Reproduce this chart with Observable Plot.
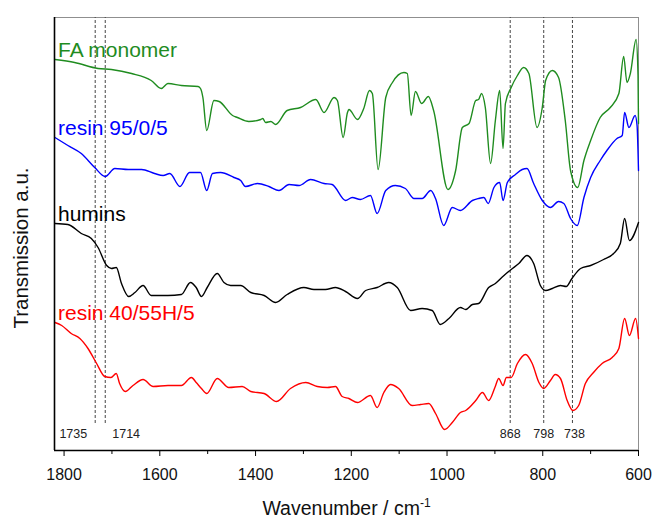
<!DOCTYPE html>
<html><head><meta charset="utf-8">
<script src="https://cdn.jsdelivr.net/npm/d3@7"></script>
<script src="https://cdn.jsdelivr.net/npm/@observablehq/plot@0.6"></script>
<style>
body{margin:0;background:#fff}
svg{font-family:"Liberation Sans",Arial,sans-serif}
</style>
</head><body><div id="chart"></div>
<script>
// [wavenumber (cm-1), transmission (a.u., offset)]
const faMonomer = [[1819,3.91],[1778,3.88],[1729,3.82],[1701,3.81],[1659,3.77],[1618,3.70],[1597,3.62],[1583,3.67],[1555,3.65],[1520,3.64],[1515,3.62],[1510,3.53],[1502,3.20],[1487,3.50],[1476,3.49],[1448,3.35],[1438,3.33],[1414,3.29],[1389,3.31],[1385,3.32],[1379,3.28],[1368,3.29],[1358,3.26],[1334,3.40],[1306,3.43],[1274,3.51],[1257,3.38],[1236,3.53],[1229,3.50],[1217,3.13],[1208,3.38],[1205,3.41],[1187,3.31],[1174,3.42],[1162,3.60],[1156,3.57],[1144,2.81],[1128,3.53],[1114,3.68],[1090,3.78],[1083,3.77],[1075,3.35],[1066,3.59],[1053,3.47],[1039,3.54],[1028,3.40],[998,2.61],[982,2.80],[968,3.23],[954,3.27],[940,3.50],[934,3.51],[928,3.57],[920,3.43],[909,2.87],[899,3.30],[890,3.60],[883,3.02],[878,3.47],[866,3.63],[853,3.75],[840,3.83],[829,3.77],[812,3.23],[801,3.43],[794,3.70],[780,3.80],[767,3.73],[753,3.30],[742,2.80],[727,2.63],[714,2.90],[700,3.10],[680,3.33],[659,3.43],[641,3.57],[631,3.94],[624,3.68],[617,3.77],[605,4.11],[601,3.75],[600,3.27]];
const resin95 = [[1819,3.13],[1792,3.05],[1764,2.97],[1736,2.83],[1714,2.74],[1694,2.82],[1666,2.81],[1638,2.81],[1611,2.77],[1593,2.75],[1579,2.77],[1558,2.64],[1538,2.78],[1515,2.78],[1502,2.60],[1490,2.77],[1473,2.78],[1445,2.73],[1431,2.70],[1421,2.64],[1396,2.67],[1372,2.64],[1351,2.60],[1330,2.66],[1309,2.65],[1285,2.71],[1257,2.67],[1240,2.66],[1212,2.50],[1198,2.53],[1181,2.51],[1160,2.55],[1146,2.37],[1128,2.60],[1108,2.65],[1087,2.62],[1069,2.52],[1052,2.52],[1034,2.60],[1024,2.52],[1007,2.25],[989,2.43],[972,2.40],[947,2.50],[934,2.52],[923,2.53],[914,2.47],[902,2.63],[890,2.68],[883,2.50],[874,2.68],[857,2.76],[843,2.81],[833,2.82],[819,2.67],[801,2.50],[784,2.43],[767,2.49],[756,2.47],[742,2.32],[728,2.25],[714,2.53],[700,2.73],[680,2.90],[666,3.00],[645,3.12],[634,3.15],[629,3.38],[620,3.23],[607,3.35],[603,3.25],[600,2.80]];
const humins = [[1819,2.27],[1792,2.26],[1764,2.17],[1743,2.12],[1729,2.03],[1711,1.85],[1701,1.82],[1691,1.83],[1680,1.67],[1665,1.54],[1652,1.58],[1635,1.65],[1618,1.55],[1583,1.55],[1555,1.56],[1536,1.68],[1524,1.63],[1513,1.54],[1501,1.63],[1480,1.77],[1466,1.68],[1452,1.65],[1431,1.65],[1410,1.58],[1382,1.55],[1358,1.48],[1334,1.56],[1299,1.63],[1278,1.61],[1254,1.61],[1233,1.63],[1212,1.59],[1187,1.52],[1170,1.60],[1146,1.63],[1122,1.68],[1104,1.63],[1076,1.40],[1052,1.42],[1031,1.40],[1014,1.26],[996,1.32],[972,1.43],[961,1.41],[947,1.46],[934,1.47],[913,1.63],[899,1.67],[881,1.75],[866,1.81],[850,1.87],[833,1.95],[819,1.87],[805,1.65],[794,1.60],[780,1.62],[763,1.65],[751,1.64],[739,1.72],[721,1.82],[700,1.85],[673,1.91],[652,1.97],[638,2.07],[629,2.32],[619,2.10],[600,2.28]];
const resin40 = [[1819,1.28],[1805,1.25],[1785,1.17],[1767,1.12],[1750,1.02],[1732,0.87],[1715,0.74],[1702,0.73],[1691,0.77],[1684,0.67],[1672,0.59],[1656,0.65],[1635,0.71],[1614,0.64],[1583,0.65],[1555,0.65],[1534,0.73],[1524,0.68],[1513,0.62],[1502,0.57],[1480,0.72],[1456,0.63],[1428,0.64],[1410,0.59],[1382,0.57],[1356,0.49],[1327,0.62],[1295,0.68],[1271,0.64],[1250,0.63],[1233,0.64],[1219,0.54],[1205,0.52],[1187,0.48],[1160,0.55],[1146,0.43],[1132,0.58],[1118,0.66],[1101,0.62],[1073,0.45],[1055,0.46],[1038,0.47],[1024,0.37],[1005,0.21],[989,0.28],[972,0.38],[961,0.40],[940,0.50],[926,0.58],[913,0.50],[900,0.63],[892,0.72],[883,0.65],[876,0.73],[866,0.73],[853,0.87],[836,0.96],[822,0.87],[808,0.68],[798,0.62],[784,0.70],[774,0.76],[763,0.72],[749,0.50],[737,0.40],[725,0.45],[711,0.67],[694,0.78],[676,0.87],[655,0.93],[641,1.02],[629,1.32],[619,1.15],[606,1.32],[600,1.12]];

const seriesNames = ["FA monomer", "resin 95/0/5", "humins", "resin 40/55H/5"];
const seriesColors = ["#1f8c1f", "#0000ff", "#000000", "#ff0000"];
const seriesData = [faMonomer, resin95, humins, resin40];

const bandWavenumbers = [1735, 1714, 868, 798, 738];
const bandLabels = ["1735", "1714", "868", "798", "738"];

const majorTicks = [1800, 1600, 1400, 1200, 1000, 800, 600];
const minorTicks = [1700, 1500, 1300, 1100, 900, 700];
const xLabel = "Wavenumber / cm";
const xLabelSup = "-1";
const yLabel = "Transmission a.u.";

const xDomain = [1820, 600];
const yDomain = [0, 4.33];

const marks = [Plot.frame({stroke: "#8f8f8f", strokeWidth: 1})];

marks.push(Plot.ruleX(bandWavenumbers, {y1: 0.27, y2: yDomain[1], stroke: "#444", strokeWidth: 1, strokeDasharray: "3,2"}));

seriesData.forEach((d, i) => {
  marks.push(Plot.line(d, {x: p => p[0], y: p => p[1], stroke: seriesColors[i], strokeWidth: 1.4, curve: "monotone-x"}));
  marks.push(Plot.text([d[0]], {x: p => p[0], y: p => p[1], text: () => seriesNames[i], fill: seriesColors[i],
    fontSize: 21, textAnchor: "start", lineAnchor: "bottom", dx: 3, dy: -2.5}));
});

const bandTable = bandWavenumbers.map((w, i) => ({w, label: bandLabels[i]}));
const anchorFor = {"1735": ["end", -8], "1714": ["start", 7]};
bandTable.forEach(b => {
  const a = anchorFor[b.label] || ["middle", b.label === "738" ? 2 : 0];
  marks.push(Plot.text([b], {x: "w", frameAnchor: "bottom", text: "label", fontSize: 12.5, fill: "#222",
    textAnchor: a[0], dx: a[1], lineAnchor: "bottom", dy: -13}));
});

marks.push(Plot.axisX({ticks: majorTicks, tickSize: 6, tickPadding: 12, fontSize: 16, label: null, tickFormat: d => String(d), stroke: "#000", color: "#111"}));
marks.push(Plot.axisX({ticks: minorTicks, tickSize: 4, text: null, label: null, stroke: "#000"}));
marks.push(Plot.ruleX([xDomain[0]], {stroke: "#000", strokeWidth: 1.6}));
marks.push(Plot.ruleY([yDomain[0]], {stroke: "#000", strokeWidth: 1.6}));

marks.push(Plot.text([xLabel], {frameAnchor: "bottom", text: d => d, fontSize: 19.5, textAnchor: "middle", lineAnchor: "bottom", dy: 64, fill: "#111"}));
marks.push(Plot.text([yLabel], {frameAnchor: "left", text: d => d, fontSize: 20.5, textAnchor: "middle", lineAnchor: "bottom", rotate: -90, dx: -27, dy: 14, fill: "#111"}));

const chart = Plot.plot({
  width: 655, height: 517,
  marginLeft: 54, marginRight: 17, marginTop: 17, marginBottom: 67,
  x: {domain: xDomain},
  y: {domain: yDomain, axis: null},
  style: {background: "#fff", fontFamily: "Liberation Sans, Arial, sans-serif"},
  marks
});
document.getElementById("chart").appendChild(chart);

const lbl = Array.from(chart.querySelectorAll("text")).find(t => t.textContent === xLabel);
if (lbl) {
  const t = document.createElementNS("http://www.w3.org/2000/svg", "tspan");
  t.setAttribute("dy", "-8");
  t.setAttribute("font-size", "12");
  t.textContent = xLabelSup;
  lbl.appendChild(t);
}
</script>
</body></html>
